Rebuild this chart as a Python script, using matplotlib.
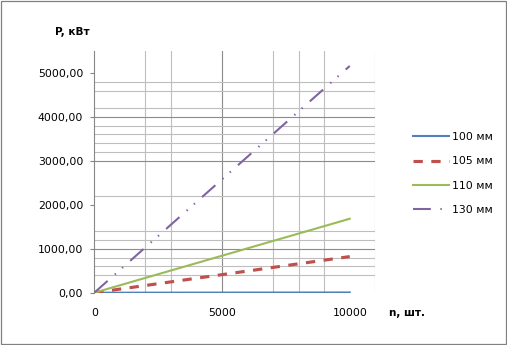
import matplotlib
matplotlib.use('Agg')
import matplotlib.pyplot as plt
from matplotlib.ticker import FixedLocator, FuncFormatter
from matplotlib.patches import Rectangle

# n, шт. and power P, кВт for each diameter
n_values = [0, 2000, 4000, 6000, 8000, 10000]
p_100 = [0, 1, 2, 3, 4, 5]
p_105 = [0, 164, 329, 493, 658, 822]
p_110 = [0, 337, 673, 1010, 1346, 1683]
p_130 = [0, 1032, 2064, 3096, 4128, 5160]
labels = ['100 мм', '105 мм', '110 мм', '130 мм']

x_ticks = [0, 5000, 10000]
y_ticks = [0, 1000, 2000, 3000, 4000, 5000]

# gridlines as they show up on the sheet
x_minor_grid = [2000, 3000, 7000, 8000, 9000, 11000]
x_major_grid = [5000]
y_minor_grid = [400, 600, 800, 1200, 1400, 2200, 3200, 3400, 3600, 3800, 4200, 4600, 4800]
y_major_grid = [1000, 3000, 4000]


def main():
    plt.rcParams['font.family'] = ['DejaVu Sans']
    fig = plt.figure(figsize=(5.07, 3.45), dpi=100)
    ax = fig.add_axes([94.3 / 507, 1 - 292.7 / 345, 281 / 507, 241.7 / 345])

    ax.plot(n_values, p_100, color='#4F81BD', lw=1.5, label=labels[0], zorder=3)
    ax.plot(n_values, p_105, color='#C0504D', lw=2.25, linestyle=(0, (2.98, 2.72)),
            label=labels[1], zorder=3)
    ax.plot(n_values, p_110, color='#9BBB59', lw=1.5, label=labels[2], zorder=3)
    ax.plot(n_values, p_130, color='#8064A2', lw=1.5,
            linestyle=(0, (8.55, 4.6, 0.67, 4.0, 0.67, 4.56)), label=labels[3], zorder=3)

    ax.set_xlim(0, 11000)
    ax.set_ylim(0, 5500)

    # gridlines
    for x in x_minor_grid:
        ax.axvline(x, color='#BEBEBE', lw=0.8, zorder=1)
    for x in x_major_grid:
        ax.axvline(x, color='#8C8C8C', lw=0.8, zorder=1)
    for y in y_minor_grid:
        ax.axhline(y, color='#BEBEBE', lw=0.8, zorder=1)
    for y in y_major_grid:
        ax.axhline(y, color='#8C8C8C', lw=0.8, zorder=1)

    ax.xaxis.set_major_locator(FixedLocator(x_ticks))
    ax.yaxis.set_major_locator(FixedLocator(y_ticks))
    ax.yaxis.set_major_formatter(FuncFormatter(lambda v, pos: f'{v:.2f}'.replace('.', ',')))
    ax.tick_params(axis='x', length=0, pad=11, labelsize=7.8, colors='#000000')
    ax.tick_params(axis='y', length=3, width=0.8, color='#868686', pad=5, labelsize=7.8)

    for side in ['top', 'right', 'bottom']:
        ax.spines[side].set_visible(False)
    ax.spines['left'].set_color('#868686')
    ax.spines['left'].set_linewidth(0.8)

    # axis titles
    fig.text(55 / 507, 1 - 32 / 345, 'P, кВт', fontsize=7.5, fontweight='bold',
             ha='left', va='center')
    fig.text(389 / 507, 1 - 313 / 345, 'n, шт.', fontsize=7.5, fontweight='bold',
             ha='left', va='center')

    ax.legend(loc='upper left', bbox_to_anchor=(413 / 507, 1 - 132 / 345),
              bbox_transform=fig.transFigure, frameon=False, fontsize=7.8,
              borderpad=0, borderaxespad=0, handlelength=3.33, handletextpad=0.3,
              labelspacing=1.33)

    # chart border
    fig.patches.append(Rectangle((0.5 / 507, 0.8 / 345), 1 - 1.6 / 507, 1 - 1.6 / 345,
                                 transform=fig.transFigure, fill=False,
                                 edgecolor='#808080', lw=0.9))

    fig.savefig('out.png', dpi=100)


if __name__ == '__main__':
    main()
